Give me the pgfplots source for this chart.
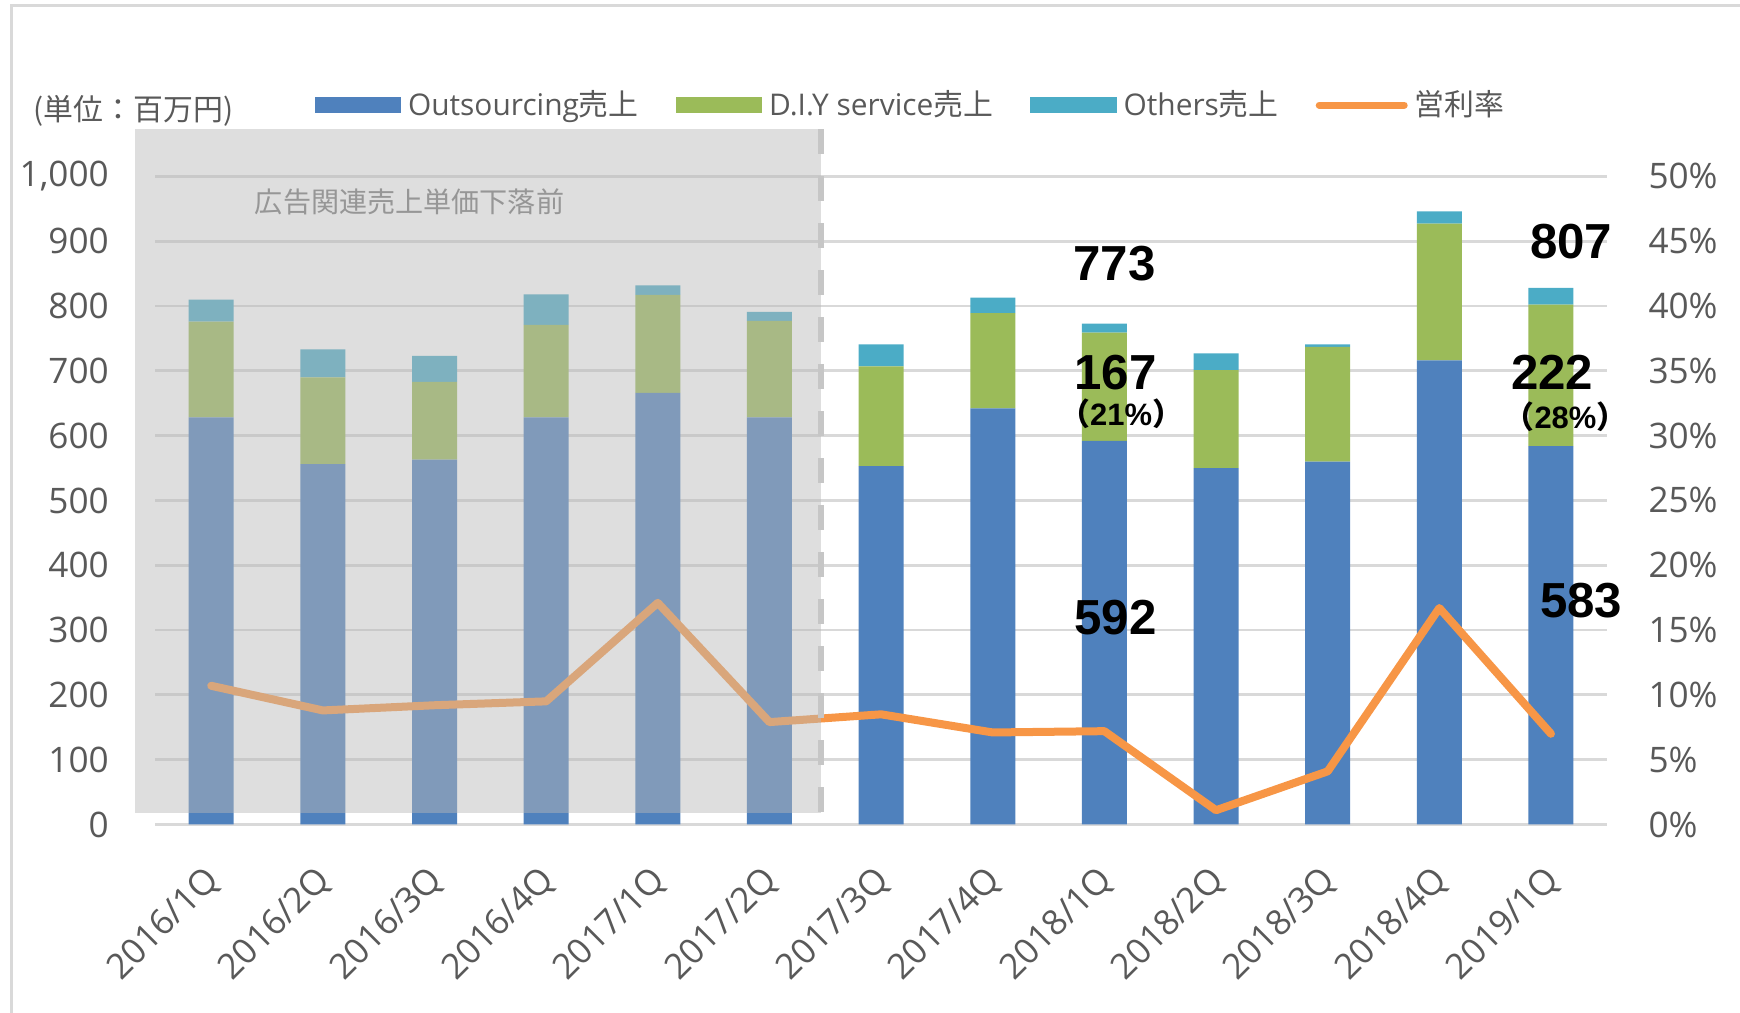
\documentclass[border=0pt]{standalone}
\usepackage{pgfplots}
\usepackage{pgfplotstable}
\pgfplotsset{compat=1.18}
\usepackage{fontspec}
\setmainfont{Open Sans}
\newfontfamily\jp{Noto Sans CJK JP}
\newfontfamily\annot{Liberation Sans}

\definecolor{outsrc}{HTML}{4F81BD}
\definecolor{diy}{HTML}{9BBB59}
\definecolor{others}{HTML}{4BACC6}
\definecolor{rate}{HTML}{F79646}
\definecolor{txtgray}{HTML}{595959}
\definecolor{gridgray}{HTML}{D9D9D9}
\definecolor{ovgray}{RGB}{184,184,184}
\definecolor{ovtext}{RGB}{150,150,150}

\tikzset{
  bignum/.style={font=\annot\bfseries\fontsize{14}{16}\selectfont},
  smallnum/.style={font=\fontsize{8.8}{10}\selectfont},
}
\pgfplotsset{
  legO/.style={legend image code/.code={\fill[outsrc] (0cm,-0.075cm) rectangle (0.85cm,0.075cm);}},
  legD/.style={legend image code/.code={\fill[diy] (0cm,-0.075cm) rectangle (0.85cm,0.075cm);}},
  legT/.style={legend image code/.code={\fill[others] (0cm,-0.075cm) rectangle (0.85cm,0.075cm);}},
  legR/.style={legend image code/.code={\draw[rate, line width=0.07cm, line cap=round] (0.03cm,0cm) -- (0.88cm,0cm);}},
}

% sales (million yen) and operating margin (%)
\pgfplotstableread{
x  outsrc diy others rate
0  628    148 34     10.7
1  556    134 43     8.8
2  563    120 40     9.2
3  628    143 47     9.5
4  666    151 15     17.1
5  628    149 14     7.9
6  553    154 34     8.5
7  642    147 24     7.1
8  592    167 14     7.2
9  550    151 26     1.1
10 560    177 4      4.1
11 716    211 19     16.7
12 584    218 26     7.0
}\salesdata

\begin{document}
\begin{tikzpicture}
\useasboundingbox (0,0) rectangle (17.4cm,10.13cm);
\draw[gridgray, line width=0.03cm] (0.11cm,0) -- (0.11cm,10.07cm) -- (17.4cm,10.07cm);
\node[anchor=west, text=txtgray, font=\jp\fontsize{8.5}{10}\selectfont, inner sep=0pt]
  at (0.33cm,9.02cm) {(単位：百万円)};

\begin{axis}[
    at={(1.554cm,1.885cm)}, anchor=south west,
    scale only axis, width=14.514cm, height=6.481cm,
    xmin=-0.5, xmax=12.5, ymin=0, ymax=1000,
    ybar stacked, bar width=0.45cm,
    xtick={0,...,12},
    xticklabels={2016/1Q,2016/2Q,2016/3Q,2016/4Q,2017/1Q,2017/2Q,2017/3Q,2017/4Q,2018/1Q,2018/2Q,2018/3Q,2018/4Q,2019/1Q},
    ytick={0,100,...,1000},
    ymajorgrids, grid style={gridgray, line width=0.8pt},
    axis line style={draw=none}, major tick length=0,
    tick label style={font=\fontsize{10}{12}\selectfont, text=txtgray},
    yticklabel style={inner sep=0pt, xshift=-0.46cm},
    xticklabel style={xshift=0.03cm, yshift=-0.5cm, rotate=45, anchor=east, inner sep=0pt},
    /pgf/number format/1000 sep={,},
    /pgf/number format/assume math mode=true,
    clip=false,
  ]
  \addplot[fill=outsrc, draw=none] table[x=x, y=outsrc] {\salesdata};
  \addplot[fill=diy, draw=none] table[x=x, y=diy] {\salesdata};
  \addplot[fill=others, draw=none] table[x=x, y=others] {\salesdata};
\end{axis}

\begin{axis}[
    at={(1.554cm,1.885cm)}, anchor=south west,
    scale only axis, width=14.514cm, height=6.481cm,
    xmin=-0.5, xmax=12.5, ymin=0, ymax=50,
    hide x axis, axis y line*=right,
    axis line style={draw=none}, major tick length=0,
    ytick={0,5,...,50},
    yticklabel={\pgfmathprintnumber{\tick}\%},
    tick label style={font=\fontsize{10}{12}\selectfont, text=txtgray},
    yticklabel style={anchor=west, inner sep=0pt, xshift=0.41cm},
    /pgf/number format/assume math mode=true,
    clip=false,
    legend style={at={(0.522,1.11)}, anchor=center, draw=none, fill=none,
      legend columns=4, font=\fontsize{8.5}{10}\selectfont, text=txtgray,
      /tikz/every even column/.append style={column sep=0.3cm}},
  ]
  \addlegendimage{legO}
  \addlegendentry{Outsourcing{\jp 売上}}
  \addlegendimage{legD}
  \addlegendentry{D.I.Y service{\jp 売上}}
  \addlegendimage{legT}
  \addlegendentry{Others{\jp 売上}}
  \addplot[rate, line width=0.08cm, line join=round, line cap=round, legR]
    table[x=x, y=rate] {\salesdata};
  \addlegendentry{{\jp 営利率}}
  % period before the ad price drop
  \fill[ovgray, fill opacity=0.47] (axis cs:-0.683,0.885) rectangle (axis cs:5.461,53.65);
  \draw[gray!45, line width=0.06cm, dash pattern=on 0.25cm off 0.22cm]
    (axis cs:5.461,53.65) -- (axis cs:5.461,0.885);
  \node[anchor=west, text=ovtext, font=\jp\fontsize{8}{10}\selectfont]
    at (axis cs:0.28,48.05) {広告関連売上単価下落前};

  % callouts (values in million yen, placed on the % scale: /20)
  \node[bignum] at (axis cs:8.09,43.25) {773};
  \node[bignum] at (axis cs:8.10,34.85) {167};
  \node[bignum] at (axis cs:8.10,15.95) {592};
  \node[bignum] at (axis cs:12.18,45.0) {807};
  \node[bignum] at (axis cs:12.01,34.85) {222};
  \node[bignum] at (axis cs:12.27,17.3) {583};
  \node[smallnum] at (axis cs:8.15,31.65) {{\jp\bfseries （}{\annot\bfseries 21\%}{\jp\bfseries ）}};
  \node[smallnum] at (axis cs:12.13,31.45) {{\jp\bfseries （}{\annot\bfseries 28\%}{\jp\bfseries ）}};
\end{axis}
\end{tikzpicture}
\end{document}
